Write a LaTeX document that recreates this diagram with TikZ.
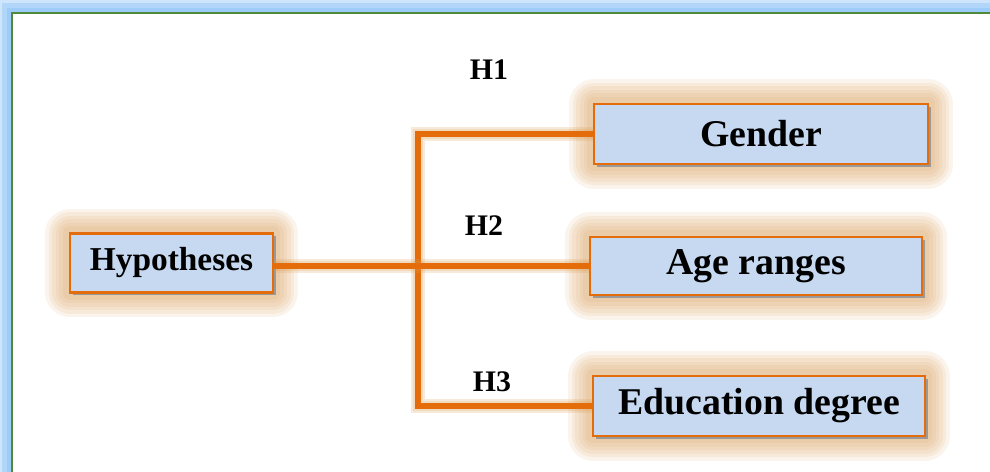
\documentclass[tikz,border=0pt]{standalone}
\usepackage{fontspec}
\setmainfont{Liberation Serif}
\definecolor{boxfill}{HTML}{C6D9F1}
\definecolor{boxline}{HTML}{E46C0A}
\definecolor{glow}{HTML}{D99A4E}
\definecolor{framegreen}{HTML}{4F8A3B}
\definecolor{frameglow}{HTML}{9ECCF8}
\begin{document}
\begin{tikzpicture}[
  x=0.02cm, y=-0.02cm,
  item/.style={draw=boxline, fill=boxfill, line width=1.3pt, inner sep=0pt,
    preaction={draw=glow, draw opacity=0.1, line width=28pt, line join=round},
    preaction={draw=glow, draw opacity=0.1, line width=24pt, line join=round},
    preaction={draw=glow, draw opacity=0.1, line width=20pt, line join=round},
    preaction={draw=glow, draw opacity=0.1, line width=16pt, line join=round},
    preaction={draw=glow, draw opacity=0.1, line width=12pt, line join=round},
    preaction={draw=glow, draw opacity=0.1, line width=8pt, line join=round},
    preaction={fill=black!40, transform canvas={xshift=1.5pt, yshift=-1.5pt}}},
  link/.style={draw=boxline, line width=3.4pt,
    preaction={draw=glow, draw opacity=0.2, line width=8pt},
    preaction={draw=glow, draw opacity=0.2, line width=5.5pt}},
  hlabel/.style={font=\bfseries\fontsize{17}{20}\selectfont},
  every node/.style={font=\bfseries\fontsize{21.5}{25}\selectfont}
]
  \useasboundingbox (0,0) rectangle (990,472);
  \clip (0,0) rectangle (990,472);
  \draw[frameglow, line width=16pt, opacity=0.5] (12,13) rectangle (1020,500);
  \draw[frameglow, line width=11pt, opacity=0.6] (12,13) rectangle (1020,500);
  \draw[frameglow, line width=6pt] (12,13) rectangle (1020,500);
  \fill[white] (12,13) rectangle (1020,500);
  \draw[framegreen, line width=1.3pt] (12,13) rectangle (1020,500);

  \node[item, minimum width=4.06cm, minimum height=1.18cm, font=\bfseries\fontsize{19}{22}\selectfont] (hyp) at (171.5,263) {Hypotheses};
  \node[item, minimum width=6.68cm, minimum height=1.2cm] (gender) at (761,134) {Gender};
  \node[item, minimum width=6.64cm, minimum height=1.16cm] (age) at (756,266) {Age ranges};
  \node[item, minimum width=6.64cm, minimum height=1.2cm] (edu) at (759,406) {Education degree};

  \coordinate (trunk) at (418,0);

  \draw[link] (gender.west) -- (gender.west -| trunk) -- (edu.west -| trunk) -- (edu.west);
  \draw[link] (hyp.east |- age.west) -- (age.west);

  \node[hlabel] (h1) at (489,70) {H1};
  \node[hlabel] (h2) at (484,226) {H2};
  \node[hlabel] (h3) at (492,382) {H3};
\end{tikzpicture}
\end{document}
